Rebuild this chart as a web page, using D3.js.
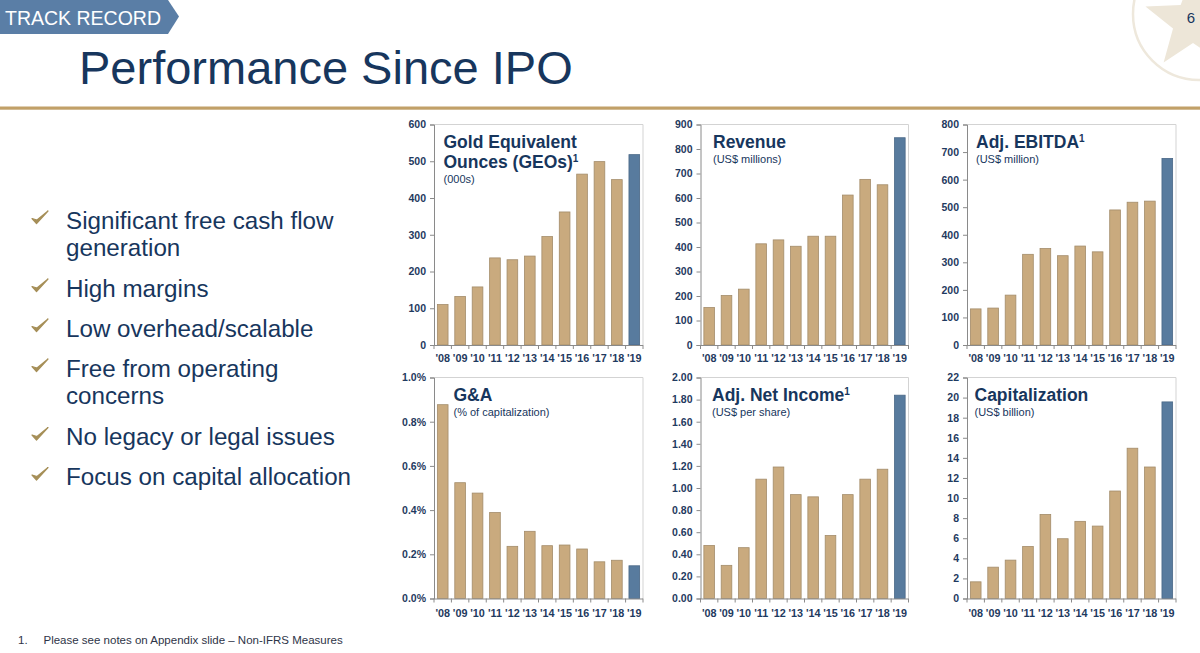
<!DOCTYPE html>
<html>
<head>
<meta charset="utf-8">
<script src="https://cdn.jsdelivr.net/npm/d3@7"></script>
<style>
  html, body { margin: 0; padding: 0; background: #ffffff; }
  svg { display: block; }
</style>
</head>
<body>
<svg id="chart" width="1200" height="653"></svg>
<script>
// ---------- DATA ----------
const years = ["'08", "'09", "'10", "'11", "'12", "'13", "'14", "'15", "'16", "'17", "'18", "'19"];

const geoValues       = [110, 132, 158, 237, 232, 242, 295, 362, 465, 499, 450, 518];
const revenueValues   = [153, 202, 228, 413, 429, 403, 444, 444, 612, 676, 654, 846];
const ebitdaValues    = [131, 134, 181, 329, 350, 324, 359, 338, 490, 518, 522, 677];
const gaValues        = [0.877, 0.524, 0.477, 0.389, 0.236, 0.304, 0.239, 0.242, 0.224, 0.166, 0.173, 0.148];
const netIncomeValues = [0.48, 0.30, 0.46, 1.08, 1.19, 0.94, 0.92, 0.57, 0.94, 1.08, 1.17, 1.84];
const capValues       = [1.66, 3.12, 3.82, 5.18, 8.37, 5.95, 7.68, 7.21, 10.7, 14.96, 13.09, 19.57];

const geoTicks       = [0, 100, 200, 300, 400, 500, 600];
const revenueTicks   = [0, 100, 200, 300, 400, 500, 600, 700, 800, 900];
const ebitdaTicks    = [0, 100, 200, 300, 400, 500, 600, 700, 800];
const gaTicks        = [0, 0.2, 0.4, 0.6, 0.8, 1.0];
const netIncomeTicks = [0, 0.2, 0.4, 0.6, 0.8, 1.0, 1.2, 1.4, 1.6, 1.8, 2.0];
const capTicks       = [0, 2, 4, 6, 8, 10, 12, 14, 16, 18, 20, 22];

const bulletItems = [
  ["Significant free cash flow", "generation"],
  ["High margins"],
  ["Low overhead/scalable"],
  ["Free from operating", "concerns"],
  ["No legacy or legal issues"],
  ["Focus on capital allocation"]
];

// ---------- STYLE ----------
const NAVY = "#17365d";
const TAN = "#c9aa7e", TAN_EDGE = "#a38c6a";
const BLUE = "#587b9e", BLUE_EDGE = "#4a6887";
const GOLD = "#c1a068";
const AXIS = "#8a8a8a";
const FRAME = "#d3d3d3";
const FONT = "'Liberation Sans', Arial, sans-serif";

const svg = d3.select("#chart");

// ---------- HEADER ----------
svg.append("polygon")
  .attr("points", "0,0 168,0 179,16.5 168,34 0,34")
  .attr("fill", "#5a7ea6");
svg.append("text").attr("x", 5).attr("y", 24.5)
  .attr("font-family", FONT).attr("font-size", 19.5).attr("fill", "#ffffff")
  .text("TRACK RECORD");

// watermark logo
const logo = svg.append("g");
logo.append("circle").attr("cx", 1199).attr("cy", 14).attr("r", 66)
  .attr("fill", "none").attr("stroke", "#eee8dc").attr("stroke-width", 2.5);
(function () {
  const cx = 1193, cy = 22, R = 50, r = 21;
  const pts = [];
  for (let i = 0; i < 10; i++) {
    const a = -Math.PI / 2 + i * Math.PI / 5;
    const rad = i % 2 === 0 ? R : r;
    pts.push([cx + rad * Math.cos(a), cy + rad * Math.sin(a)]);
  }
  logo.append("polygon").attr("points", pts.map(p => p.join(",")).join(" "))
    .attr("fill", "#ede6d8");
})();
svg.append("text").attr("x", 1191).attr("y", 22.5).attr("text-anchor", "middle")
  .attr("font-family", FONT).attr("font-size", 15).attr("fill", NAVY).text("6");

// title
svg.append("text").attr("x", 79).attr("y", 83.5)
  .attr("font-family", FONT).attr("font-size", 47).attr("fill", NAVY)
  .text("Performance Since IPO");

// gold rule
svg.append("rect").attr("x", 0).attr("y", 106.5).attr("width", 1200).attr("height", 3.2)
  .attr("fill", GOLD);

// ---------- BULLETS ----------
const bulletTop = [228.5, 296.5, 336.5, 376.5, 445, 485];
bulletItems.forEach((lines, i) => {
  const y = bulletTop[i];
  svg.append("path")
    .attr("d", `M32,${y - 10} L36.5,${y - 5} L48,${y - 17.5} L37,${y - 8.5} Z`)
    .attr("fill", "#a68f58").attr("stroke", "#a68f58").attr("stroke-width", 1.2)
    .attr("stroke-linejoin", "round");
  lines.forEach((ln, j) => {
    svg.append("text").attr("x", 66).attr("y", y + j * 27.5)
      .attr("font-family", FONT).attr("font-size", 24.2).attr("fill", NAVY)
      .text(ln);
  });
});

// footnote
svg.append("text").attr("x", 18).attr("y", 643.5)
  .attr("font-family", FONT).attr("font-size", 11.5).attr("fill", "#2e3447").text("1.");
svg.append("text").attr("x", 43.5).attr("y", 643.5)
  .attr("font-family", FONT).attr("font-size", 11.5).attr("fill", "#2e3447")
  .text("Please see notes on Appendix slide \u2013 Non-IFRS Measures");

// ---------- PANELS ----------
const cols = [[434, 643], [700.5, 908.5], [967, 1176]];
const rows = [[124.5, 345], [377.5, 598.5]];

const panels = [
  { col: 0, row: 0, values: geoValues, ticks: geoTicks, fmt: d3.format("d"),
    title: ["Gold Equivalent", "Ounces (GEOs)"], sup: true, sub: "(000s)", tx: 443.5 },
  { col: 1, row: 0, values: revenueValues, ticks: revenueTicks, fmt: d3.format("d"),
    title: ["Revenue"], sup: false, sub: "(US$ millions)", tx: 713 },
  { col: 2, row: 0, values: ebitdaValues, ticks: ebitdaTicks, fmt: d3.format("d"),
    title: ["Adj. EBITDA"], sup: true, sub: "(US$ million)", tx: 976 },
  { col: 0, row: 1, values: gaValues, ticks: gaTicks, fmt: d => d3.format(".1f")(d) + "%",
    title: ["G&A"], sup: false, sub: "(% of capitalization)", tx: 453.5 },
  { col: 1, row: 1, values: netIncomeValues, ticks: netIncomeTicks, fmt: d3.format(".2f"),
    title: ["Adj. Net Income"], sup: true, sub: "(US$ per share)", tx: 712 },
  { col: 2, row: 1, values: capValues, ticks: capTicks, fmt: d3.format("d"),
    title: ["Capitalization"], sup: false, sub: "(US$ billion)", tx: 974.5 }
];

panels.forEach(p => {
  const [x0, x1] = cols[p.col];
  const [y0, y1] = rows[p.row];
  const g = svg.append("g");

  const x = d3.scaleBand().domain(years).range([x0, x1])
    .paddingInner(0.33).paddingOuter(0.165);
  const y = d3.scaleLinear().domain([0, p.ticks[p.ticks.length - 1]]).range([y1, y0]);

  // frame (top & right)
  g.append("path")
    .attr("d", `M${x0},${y0}H${x1}V${y1}`)
    .attr("fill", "none").attr("stroke", FRAME).attr("stroke-width", 1);

  // bars
  g.selectAll("rect.bar").data(p.values).join("rect")
    .attr("class", "bar")
    .attr("x", (d, i) => x(years[i]) + 0.5)
    .attr("width", x.bandwidth() - 1)
    .attr("y", d => y(d))
    .attr("height", d => y(0) - y(d))
    .attr("fill", (d, i) => i === years.length - 1 ? BLUE : TAN)
    .attr("stroke", (d, i) => i === years.length - 1 ? BLUE_EDGE : TAN_EDGE)
    .attr("stroke-width", 0.8);

  // y axis
  const ya = g.append("g").attr("transform", `translate(${x0},0)`)
    .call(d3.axisLeft(y).tickValues(p.ticks).tickFormat(p.fmt).tickSize(4).tickPadding(4));
  ya.select(".domain").attr("stroke", AXIS);
  ya.selectAll(".tick line").attr("stroke", AXIS);
  ya.selectAll(".tick text").attr("font-family", FONT).attr("font-size", 10.5)
    .attr("font-weight", "bold").attr("fill", "#1f3a60");

  // x axis labels
  const xa = g.append("g").attr("transform", `translate(0,${y1})`)
    .call(d3.axisBottom(x).tickSize(0).tickPadding(p.row === 0 ? 9 : 11));
  xa.select(".domain").attr("stroke", AXIS).attr("d", `M${x0},0.5H${x1}`);
  xa.selectAll(".tick text").attr("font-family", FONT).attr("font-size", 10.8)
    .attr("font-weight", "bold").attr("fill", "#1f3a60");

  // category boundary ticks
  const bounds = d3.range(years.length + 1).map(i => x0 + i * x.step());
  g.selectAll("line.ctick").data(bounds).join("line")
    .attr("x1", d => d).attr("x2", d => d)
    .attr("y1", y1).attr("y2", y1 + 4)
    .attr("stroke", AXIS).attr("stroke-width", 1);

  // titles
  const tt = g.append("text").attr("font-family", FONT).attr("font-weight", "bold")
    .attr("font-size", 17.5).attr("fill", NAVY);
  p.title.forEach((line, i) => {
    tt.append("tspan").attr("x", p.tx).attr("y", y0 + 23.5 + i * 20).text(line);
    if (p.sup && i === p.title.length - 1) {
      tt.append("tspan").attr("dy", -6).attr("font-size", 10).text("1");
    }
  });
  g.append("text").attr("x", p.tx).attr("y", y0 + 23.5 + (p.title.length - 1) * 20 + 15)
    .attr("font-family", FONT).attr("font-size", 11).attr("fill", NAVY)
    .text(p.sub);
});
</script>
</body>
</html>
